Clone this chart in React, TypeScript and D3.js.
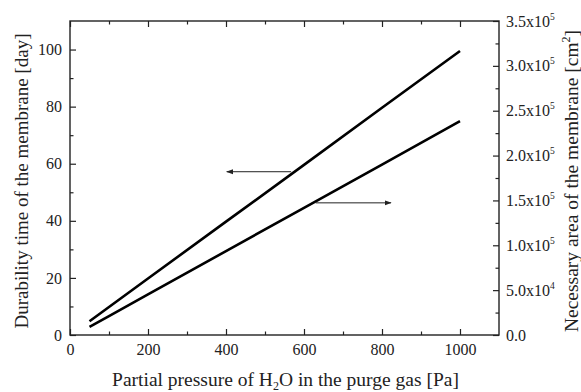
import React, { useRef, useEffect } from "react";
import * as d3 from "d3";

// partial pressure of H2O [Pa]
const pressure = [50, 100, 200, 400, 600, 800, 1000];
// durability time [day] (left axis)
const durability = [4.8, 9.8, 19.8, 39.7, 59.6, 79.6, 99.5];
// necessary membrane area [cm2] (right axis)
const area = [9000, 21000, 45200, 93500, 141800, 190000, 238300];

const xTicks = [0, 200, 400, 600, 800, 1000];
const yLeftTicks = [0, 20, 40, 60, 80, 100];
const yRightTicks = [0, 50000, 100000, 150000, 200000, 250000, 300000, 350000];
const yRightLabels = ["0.0", "5.0x10|4", "1.0x10|5", "1.5x10|5", "2.0x10|5", "2.5x10|5", "3.0x10|5", "3.5x10|5"];

// arrows pointing to the axis each curve belongs to
const arrowLeft = { x0: 567, x1: 402, y: 57.2 };
const arrowRight = { x0: 630, x1: 823, y: 147300 };

export default function App() {
  const ref = useRef<SVGSVGElement>(null);

  useEffect(() => {
    if (!ref.current) return;
    const W = 581, H = 392;
    const m = { top: 21, right: 82, bottom: 57, left: 70 };
    const svg = d3.select(ref.current);
    svg.selectAll("*").remove();

    const font = "Liberation Serif, DejaVu Serif, serif";
    const ink = "#222";

    const x = d3.scaleLinear().domain([0, 1100]).range([m.left, W - m.right]);
    const yL = d3.scaleLinear().domain([0, 110]).range([H - m.bottom, m.top]);
    const yR = d3.scaleLinear().domain([0, 350000]).range([H - m.bottom, m.top]);

    const defs = svg.append("defs");
    defs.append("marker")
      .attr("id", "ah")
      .attr("viewBox", "0 0 10 10")
      .attr("refX", 9).attr("refY", 5)
      .attr("markerWidth", 7).attr("markerHeight", 7)
      .attr("markerUnits", "userSpaceOnUse")
      .attr("orient", "auto")
      .append("path")
      .attr("d", "M0,1.5 L10,5 L0,8.5 Z")
      .attr("fill", ink);

    const styleAxis = (g: any) => {
      g.select(".domain").remove();
      g.selectAll("line").attr("stroke", ink).attr("stroke-width", 1.2);
      g.selectAll("text").style("font-family", font).attr("font-size", 16).attr("fill", ink);
    };

    const minorX = d3.range(100, 1100, 200);
    const minorYL = d3.range(10, 110, 20);
    const minorYR = d3.range(25000, 350000, 50000);

    // bottom
    svg.append("g").attr("transform", `translate(0,${H - m.bottom})`)
      .call(d3.axisBottom(x).tickValues(xTicks).tickSizeInner(-6).tickSizeOuter(0).tickPadding(9).tickFormat(d3.format("d")))
      .call(styleAxis);
    svg.append("g").attr("transform", `translate(0,${H - m.bottom})`)
      .call(d3.axisBottom(x).tickValues(minorX).tickSizeInner(-3.5).tickSizeOuter(0).tickFormat(() => ""))
      .call(styleAxis);
    // top
    svg.append("g").attr("transform", `translate(0,${m.top})`)
      .call(d3.axisTop(x).tickValues(xTicks).tickSizeInner(-6).tickSizeOuter(0).tickFormat(() => ""))
      .call(styleAxis);
    svg.append("g").attr("transform", `translate(0,${m.top})`)
      .call(d3.axisTop(x).tickValues(minorX).tickSizeInner(-3.5).tickSizeOuter(0).tickFormat(() => ""))
      .call(styleAxis);
    // left
    svg.append("g").attr("transform", `translate(${m.left},0)`)
      .call(d3.axisLeft(yL).tickValues(yLeftTicks).tickSizeInner(-6).tickSizeOuter(0).tickPadding(8).tickFormat(d3.format("d")))
      .call(styleAxis);
    svg.append("g").attr("transform", `translate(${m.left},0)`)
      .call(d3.axisLeft(yL).tickValues(minorYL).tickSizeInner(-3.5).tickSizeOuter(0).tickFormat(() => ""))
      .call(styleAxis);
    // right
    const rAxis = svg.append("g").attr("transform", `translate(${W - m.right},0)`)
      .call(d3.axisRight(yR).tickValues(yRightTicks).tickSizeInner(-6).tickSizeOuter(0).tickPadding(7).tickFormat(() => ""))
      .call(styleAxis);
    rAxis.selectAll<SVGTextElement, number>("text").each(function (d, i) {
      const [base, exp] = yRightLabels[i].split("|");
      const t = d3.select(this);
      t.text(null);
      t.append("tspan").text(base);
      if (exp) t.append("tspan").attr("dy", -7).attr("font-size", 9.5).text(exp);
    });
    svg.append("g").attr("transform", `translate(${W - m.right},0)`)
      .call(d3.axisRight(yR).tickValues(minorYR).tickSizeInner(-3.5).tickSizeOuter(0).tickFormat(() => ""))
      .call(styleAxis);

    // frame
    svg.append("rect")
      .attr("x", m.left).attr("y", m.top)
      .attr("width", W - m.left - m.right).attr("height", H - m.top - m.bottom)
      .attr("fill", "none").attr("stroke", ink).attr("stroke-width", 1.4);

    // curves
    const lineL = d3.line<number>().x((d, i) => x(pressure[i])).y(d => yL(d));
    const lineR = d3.line<number>().x((d, i) => x(pressure[i])).y(d => yR(d));
    svg.append("path").datum(durability).attr("d", lineL as any)
      .attr("fill", "none").attr("stroke", "#000").attr("stroke-width", 2.6);
    svg.append("path").datum(area).attr("d", lineR as any)
      .attr("fill", "none").attr("stroke", "#000").attr("stroke-width", 2.6);

    // arrows
    svg.append("line")
      .attr("x1", x(arrowLeft.x0)).attr("x2", x(arrowLeft.x1))
      .attr("y1", yL(arrowLeft.y)).attr("y2", yL(arrowLeft.y))
      .attr("stroke", ink).attr("stroke-width", 1).attr("marker-end", "url(#ah)");
    svg.append("line")
      .attr("x1", x(arrowRight.x0)).attr("x2", x(arrowRight.x1))
      .attr("y1", yR(arrowRight.y)).attr("y2", yR(arrowRight.y))
      .attr("stroke", ink).attr("stroke-width", 1).attr("marker-end", "url(#ah)");

    // axis titles
    const xt = svg.append("text")
      .attr("x", (m.left + W - m.right) / 2 + 1).attr("y", 386)
      .attr("text-anchor", "middle")
      .style("font-family", font).attr("font-size", 19.5).attr("fill", ink);
    xt.append("tspan").text("Partial pressure of H");
    xt.append("tspan").attr("dy", 4).attr("font-size", 12).text("2");
    xt.append("tspan").attr("dy", -4).text("O in the purge gas [Pa]");

    svg.append("text")
      .attr("transform", `translate(28,181) rotate(-90)`)
      .attr("text-anchor", "middle")
      .style("font-family", font).attr("font-size", 19).attr("fill", ink)
      .text("Durability time of the membrane [day]");

    const yt = svg.append("text")
      .attr("transform", `translate(578,181) rotate(-90)`)
      .attr("text-anchor", "middle")
      .style("font-family", font).attr("font-size", 19.5).attr("fill", ink);
    yt.append("tspan").text("Necessary area of the membrane [cm");
    yt.append("tspan").attr("dy", -8).attr("font-size", 12).text("2");
    yt.append("tspan").attr("dy", 8).text("]");
  }, []);

  return (
    <svg
      ref={ref}
      width={581}
      height={392}
      style={{ position: "absolute", left: 0, top: 0, background: "#fff" }}
    />
  );
}
